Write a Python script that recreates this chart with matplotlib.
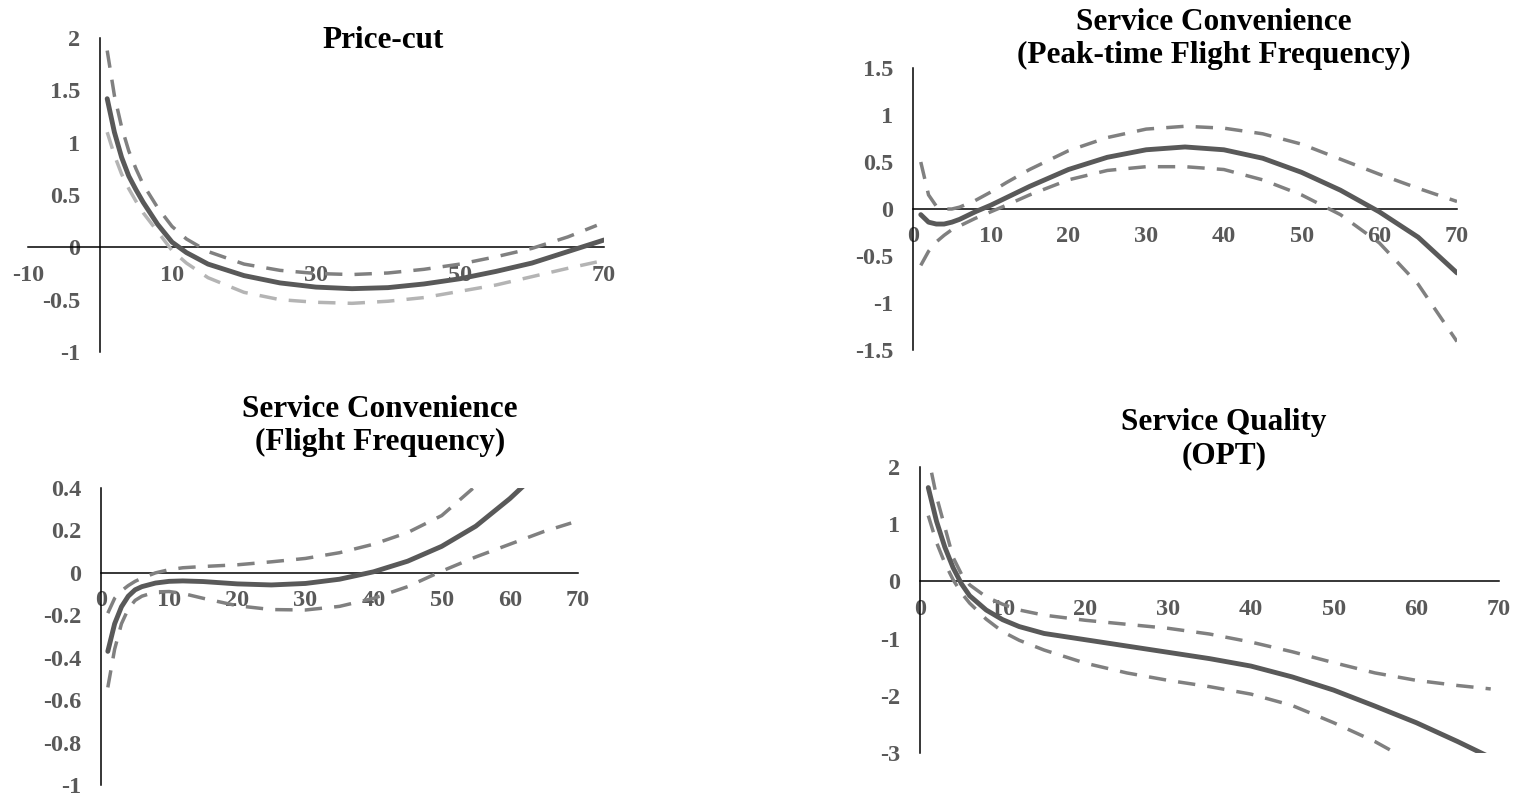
import matplotlib
matplotlib.use('Agg')
from matplotlib import pyplot as plt

plt.rcParams['font.family'] = ['Liberation Serif', 'DejaVu Serif']
plt.rcParams['font.weight'] = 'bold'

# --- data ------------------------------------------------------------------
# Price-cut
pc_x = [1, 2, 3, 4, 5, 6, 8, 10, 12, 15, 20, 25, 30, 35, 40, 45, 50, 55, 60, 65, 70]
pc_est = [1.42, 1.10, 0.86, 0.68, 0.55, 0.43, 0.22, 0.05, -0.05, -0.16, -0.27, -0.34,
          -0.38, -0.395, -0.385, -0.35, -0.30, -0.23, -0.15, -0.04, 0.07]
pc_band_x = [1, 2, 3, 4, 5, 6, 8, 10, 12, 15, 20, 25, 30, 35, 40, 45, 50, 55, 60, 65, 69]
pc_upper = [1.88, 1.45, 1.15, 0.92, 0.75, 0.60, 0.38, 0.20, 0.08, -0.04, -0.16, -0.22,
            -0.25, -0.26, -0.245, -0.21, -0.16, -0.09, -0.01, 0.10, 0.21]
pc_lower = [1.10, 0.88, 0.70, 0.56, 0.44, 0.33, 0.15, -0.03, -0.15, -0.29, -0.43, -0.50,
            -0.525, -0.535, -0.515, -0.48, -0.42, -0.36, -0.28, -0.20, -0.14]

# Service convenience (peak-time flight frequency)
pk_x = [1, 2, 3, 4, 5, 6, 8, 10, 12, 15, 20, 25, 30, 35, 40, 45, 50, 55, 60, 65, 70]
pk_est = [-0.06, -0.14, -0.16, -0.16, -0.14, -0.11, -0.03, 0.04, 0.12, 0.24, 0.42, 0.55,
          0.63, 0.66, 0.63, 0.54, 0.39, 0.20, -0.03, -0.30, -0.68]
pk_upper = [0.50, 0.15, 0.03, 0.00, 0.00, 0.02, 0.09, 0.18, 0.28, 0.42, 0.62, 0.76,
            0.85, 0.88, 0.86, 0.80, 0.69, 0.53, 0.37, 0.22, 0.08]
pk_lower = [-0.60, -0.45, -0.35, -0.28, -0.22, -0.18, -0.10, -0.03, 0.04, 0.15, 0.31, 0.41,
            0.45, 0.45, 0.42, 0.31, 0.15, -0.06, -0.36, -0.80, -1.41]

# Service convenience (flight frequency)
ff_x = [1, 2, 3, 4, 5, 6, 8, 10, 12, 15, 20, 25, 30, 35, 40, 45, 50, 55, 60, 65]
ff_est = [-0.37, -0.24, -0.16, -0.11, -0.08, -0.065, -0.048, -0.040, -0.038, -0.041, -0.052,
          -0.057, -0.050, -0.030, 0.005, 0.055, 0.125, 0.22, 0.35, 0.50]
ff_up_x = [1, 2, 3, 4, 5, 6, 8, 10, 12, 15, 20, 25, 30, 35, 40, 45, 50, 55]
ff_upper = [-0.19, -0.12, -0.085, -0.06, -0.04, -0.025, 0.0, 0.015, 0.024, 0.030, 0.038,
            0.052, 0.068, 0.095, 0.135, 0.19, 0.27, 0.41]
ff_lo_x = [1, 2, 3, 4, 5, 6, 8, 10, 12, 15, 20, 25, 30, 35, 40, 45, 50, 55, 60, 65, 69]
ff_lower = [-0.54, -0.36, -0.24, -0.17, -0.13, -0.11, -0.09, -0.088, -0.097, -0.12, -0.155,
            -0.173, -0.175, -0.158, -0.12, -0.065, 0.008, 0.075, 0.135, 0.195, 0.235]

# Service quality (OPT)
sq_x = [1, 2, 3, 4, 5, 6, 8, 10, 12, 15, 20, 25, 30, 35, 40, 45, 50, 55, 60, 65, 70]
sq_est = [1.64, 1.05, 0.60, 0.24, -0.04, -0.25, -0.50, -0.67, -0.79, -0.91, -1.02, -1.13,
          -1.24, -1.35, -1.48, -1.67, -1.90, -2.18, -2.47, -2.80, -3.15]
sq_up_x = [1.4, 2, 3, 4, 5, 6, 8, 10, 12, 15, 20, 25, 30, 35, 40, 45, 50, 55, 60, 65, 69]
sq_upper = [1.90, 1.48, 0.95, 0.42, 0.13, -0.06, -0.27, -0.40, -0.50, -0.59, -0.68, -0.75,
            -0.82, -0.92, -1.06, -1.23, -1.42, -1.60, -1.73, -1.82, -1.88]
sq_lo_x = [1, 2, 3, 4, 5, 6, 8, 10, 12, 15, 20, 25, 30, 35, 40, 45, 50, 55, 60]
sq_lower = [1.15, 0.68, 0.32, 0.03, -0.20, -0.38, -0.66, -0.88, -1.03, -1.20, -1.43, -1.60,
            -1.73, -1.84, -1.97, -2.17, -2.47, -2.80, -3.20]

# --- styling --------------------------------------------------------------
W, H = 1520, 796
SOLID = '#595959'
DASH = '#808080'
DASH_LIGHT = '#b4b4b4'
LABEL = '#595959'
DASHES = (0, (5, 3.5))


def px_axes(fig, x0, x1, ytop, ybot):
    return fig.add_axes([x0 / W, 1 - ybot / H, (x1 - x0) / W, (ybot - ytop) / H])


def style(ax, xlim, ylim, xticks, yticks):
    ax.set_xlim(*xlim)
    ax.set_ylim(*ylim)
    ax.patch.set_alpha(0)
    ax.spines['top'].set_visible(False)
    ax.spines['right'].set_visible(False)
    for s in ('left', 'bottom'):
        ax.spines[s].set_position(('data', 0))
        ax.spines[s].set_color('black')
        ax.spines[s].set_linewidth(1.1)
        ax.spines[s].set_zorder(2)
    ax.set_xticks(xticks)
    ax.set_yticks(yticks)
    ax.set_xticklabels(['%g' % v for v in xticks])
    ax.set_yticklabels(['%g' % v for v in yticks])
    ax.tick_params(axis='both', length=0, labelsize=17.5, labelcolor=LABEL)
    ax.tick_params(axis='x', pad=12.5)
    ax.tick_params(axis='y', pad=14)
    for lab in ax.get_xticklabels() + ax.get_yticklabels():
        lab.set_fontweight('bold')


def curves(ax, x, est, xu, up, xl, lo, lo_color=DASH):
    ax.plot(xu, up, color=DASH, lw=2.5, linestyle=DASHES, zorder=3)
    ax.plot(xl, lo, color=lo_color, lw=2.5, linestyle=DASHES, zorder=3)
    ax.plot(x, est, color=SOLID, lw=3.5, solid_capstyle='round',
            solid_joinstyle='round', zorder=4)


def title(fig, text, x, baseline):
    # baseline = pixel row of the last line's baseline
    fig.text(x / W, 1 - baseline / H, text, ha='center', va='baseline',
             multialignment='center', fontsize=22.5, fontweight='bold',
             color='black', linespacing=1.2)


fig = plt.figure(figsize=(W / 100, H / 100), dpi=100)
fig.patch.set_facecolor('white')

# top left
ax1 = px_axes(fig, 28, 604, 38, 352)
style(ax1, (-10, 70), (-1, 2), [-10, 10, 30, 50, 70], [-1, -0.5, 0, 0.5, 1, 1.5, 2])
curves(ax1, pc_x, pc_est, pc_band_x, pc_upper, pc_band_x, pc_lower, lo_color=DASH_LIGHT)
title(fig, 'Price-cut', 383, 48)

# top right
ax2 = px_axes(fig, 913, 1457, 68, 350)
style(ax2, (0, 70), (-1.5, 1.5), list(range(0, 71, 10)), [-1.5, -1, -0.5, 0, 0.5, 1, 1.5])
curves(ax2, pk_x, pk_est, pk_x, pk_upper, pk_x, pk_lower)
title(fig, 'Service Convenience\n(Peak-time Flight Frequency)', 1214, 63)

# bottom left
ax3 = px_axes(fig, 101, 578, 488, 785)
style(ax3, (0, 70), (-1, 0.4), list(range(0, 71, 10)),
      [-1, -0.8, -0.6, -0.4, -0.2, 0, 0.2, 0.4])
curves(ax3, ff_x, ff_est, ff_up_x, ff_upper, ff_lo_x, ff_lower)
title(fig, 'Service Convenience\n(Flight Frequency)', 380, 450)

# bottom right
ax4 = px_axes(fig, 920, 1499, 467, 753)
style(ax4, (0, 70), (-3, 2), list(range(0, 71, 10)), [-3, -2, -1, 0, 1, 2])
curves(ax4, sq_x, sq_est, sq_up_x, sq_upper, sq_lo_x, sq_lower)
title(fig, 'Service Quality\n(OPT)', 1224, 463)

plt.savefig('out.png', dpi=100)
plt.close('all')
